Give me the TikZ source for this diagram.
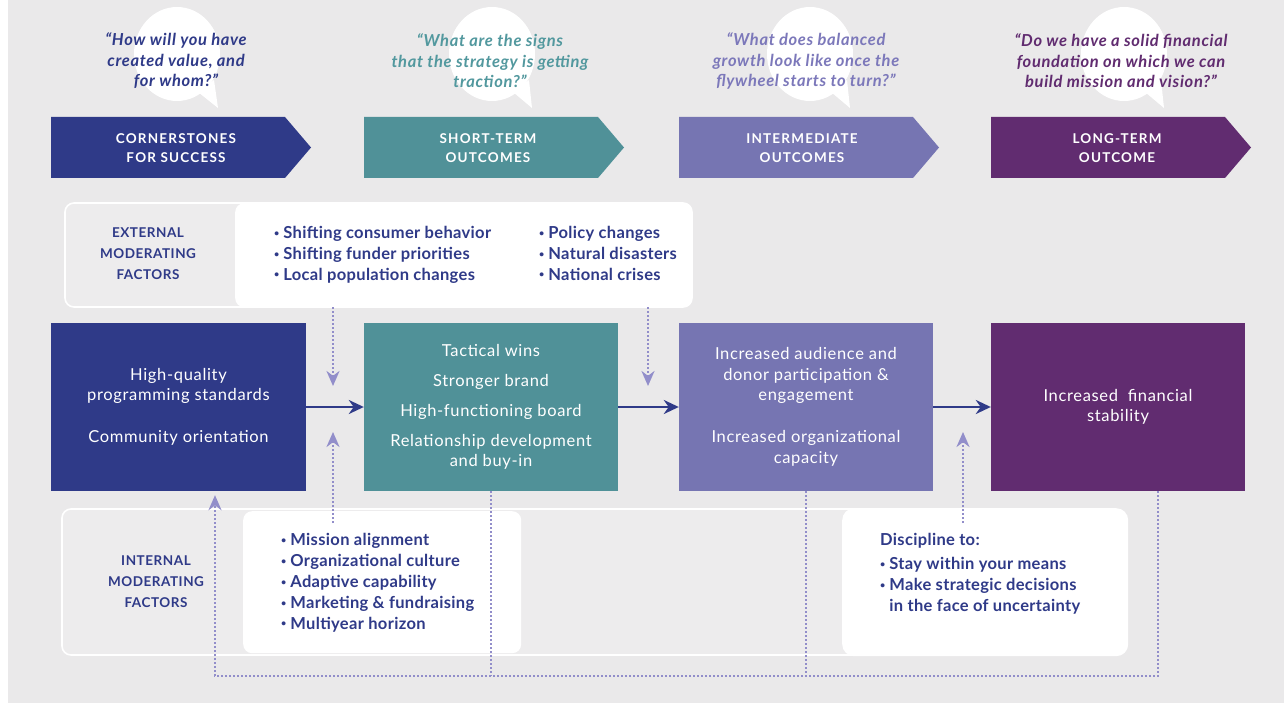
\documentclass[tikz,border=0pt]{standalone}
\usepackage{fontspec}
\setmainfont{Lato}
\usetikzlibrary{arrows.meta}
\definecolor{bg}{RGB}{234,233,234}
\definecolor{bgl}{RGB}{237,236,237}
\definecolor{navy}{RGB}{47,58,136}
\definecolor{cteal}{RGB}{80,145,152}
\definecolor{clav}{RGB}{118,117,178}
\definecolor{cpurp}{RGB}{97,44,112}
\definecolor{qteal}{RGB}{82,152,158}
\definecolor{qlav}{RGB}{124,120,186}
\definecolor{dotc}{RGB}{146,142,202}
\newcommand\bul{\raisebox{2.2pt}{\fontsize{9}{9}\selectfont•}\hspace{4pt}}

\begin{document}
\begin{tikzpicture}[x=1pt,y=-1pt,
  box/.style={minimum width=254pt,minimum height=168pt,inner sep=0pt,text=white,align=center,font=\fontsize{16.5}{20.5}\selectfont\addfontfeature{LetterSpace=4}},
  head/.style={text=white,align=center,font=\fontsize{13.5}{19.5}\selectfont\bfseries\addfontfeature{LetterSpace=9}},
  quest/.style={align=center,font=\fontsize{16.5}{20.5}\selectfont\bfseries\itshape\addfontfeature{LetterSpace=4}},
  lab/.style={text=navy,align=center,font=\fontsize{13.5}{21}\selectfont\bfseries\addfontfeature{LetterSpace=4}},
  list/.style={text=navy,align=left,anchor=north west,inner sep=0pt,font=\fontsize{16.5}{20.8}\selectfont\bfseries\addfontfeature{LetterSpace=2}},
  whitebox/.style={fill=white,anchor=north west,inner sep=0pt},
  panel/.style={draw=white,line width=1.6pt,rounded corners=9pt,fill=bgl},
  arr/.style={navy,line width=2.5pt,-{Stealth[length=15pt,width=14pt]}},
  dots/.style={dotc,line width=2.8pt,dash pattern=on 2pt off 2pt},
  dotarr/.style={dots,-{Stealth[length=15pt,width=13pt]}},
]
  \useasboundingbox (0,0) rectangle (1284,703);
  \fill[bg] (8,0) rectangle (1284,703);

  % speech bubbles
  \fill[white] (177,54) ellipse [x radius=43pt,y radius=47pt];
  \fill[white] (198,92) -- (218,108) -- (214,80) -- cycle;
  \fill[white] (492,54) ellipse [x radius=43pt,y radius=47pt];
  \fill[white] (513,92) -- (532,108) -- (529,80) -- cycle;
  \fill[white] (810,54) ellipse [x radius=43pt,y radius=47pt];
  \fill[white] (831,92) -- (850,108) -- (847,80) -- cycle;
  \fill[white] (1124,54) ellipse [x radius=43pt,y radius=47pt];
  \fill[white] (1145,92) -- (1164,108) -- (1161,80) -- cycle;

  \node[quest,text=navy] (q1) at (176,61) {“How will you have\\created value, and\\for whom?”};
  \node[quest,text=qteal] (q2) at (490,61) {“What are the signs\\that the strategy is getting\\traction?”};
  \node[quest,text=qlav] (q3) at (806,61) {“What does balanced\\growth look like once the\\flywheel starts to turn?”};
  \node[quest,text=cpurp] (q4) at (1121,61) {“Do we have a solid financial\\foundation on which we can\\build mission and vision?”};

  % header arrows
  \fill[navy] (51,117) -- (285,117) -- (311,147.5) -- (285,178) -- (51,178) -- cycle;
  \fill[cteal] (364,117) -- (598,117) -- (624,147.5) -- (598,178) -- (364,178) -- cycle;
  \fill[clav] (679,117) -- (913,117) -- (939,147.5) -- (913,178) -- (679,178) -- cycle;
  \fill[cpurp] (991,117) -- (1225,117) -- (1251,147.5) -- (1225,178) -- (991,178) -- cycle;
  \node[head] (h1) at (176,148) {CORNERSTONES\\FOR SUCCESS};
  \node[head] (h2) at (488,148) {SHORT-TERM\\OUTCOMES};
  \node[head] (h3) at (802,148) {INTERMEDIATE\\OUTCOMES};
  \node[head] (h4) at (1117,148) {LONG-TERM\\OUTCOME};

  % external factors
  \draw[panel] (65,203) rectangle (692,307);
  \node[whitebox,rounded corners=9pt,minimum width=457pt,minimum height=104pt] (extbox) at (235,203) {};
  \node[lab] (ext) at (148,254) {EXTERNAL\\MODERATING\\FACTORS};
  \node[list] (e1) at (274,226) {\bul Shifting consumer behavior\\\bul Shifting funder priorities\\\bul Local population changes};
  \node[list] (e2) at (539,226) {\bul Policy changes\\\bul Natural disasters\\\bul National crises};

  % internal factors
  \draw[panel] (62,509) rectangle (1000,655);
  \node[whitebox,rounded corners=9pt,minimum width=278pt,minimum height=142pt] (intbox) at (243,511) {};
  \node[whitebox,rounded corners=12pt,minimum width=286pt,minimum height=148pt] (discbox) at (842,508) {};
  \node[lab] (int) at (156,582) {INTERNAL\\MODERATING\\FACTORS};
  \node[list] (i1) at (281,533.5) {\bul Mission alignment\\\bul Organizational culture\\\bul Adaptive capability\\\bul Marketing \& fundraising\\\bul Multiyear horizon};
  \node[list] (d1) at (880,533.5) {Discipline to:\\[3pt]\bul Stay within your means\\\bul Make strategic decisions\\\phantom{\bul}in the face of uncertainty};

  % outcome boxes
  \node[box,fill=navy,minimum width=255pt] (b1) at (178.5,407) {High-quality\\programming standards\\[21.5pt]Community orientation};
  \node[box,fill=cteal] (b2) at (491,407) {Tactical wins\\[9.5pt]Stronger brand\\[9.5pt]High-functioning board\\[9.5pt]Relationship development\\and buy-in};
  \node[box,fill=clav] (b3) at (806,407) {Increased audience and\\donor participation \&\\engagement\\[21.5pt]Increased organizational\\capacity};
  \node[box,fill=cpurp] (b4) at (1118,407) {Increased\ \ financial\\stability};

  \draw[arr] (b1) -- (b2);
  \draw[arr] (b2) -- (b3);
  \draw[arr] (b3) -- (b4);

  % moderating influences
  \coordinate (t1) at (333,386);
  \coordinate (t2) at (648,386);
  \coordinate (t3) at (333,432);
  \coordinate (s3) at (333,523);
  \coordinate (t4) at (963,432);
  \coordinate (s4) at (963,523);
  \draw[dotarr] (extbox.south -| t1) -- (t1);
  \draw[dotarr] (extbox.south -| t2) -- (t2);
  \draw[dotarr] (s3) -- (t3);
  \draw[dotarr] (s4) -- (t4);

  % feedback loop
  \coordinate (lp) at (215,676);
  \coordinate (r4) at (1158,491);
  \draw[dots] (b2.south) -- (b2.south |- lp);
  \draw[dots] (b3.south) -- (b3.south |- lp);
  \draw[dotarr,shorten >=4pt] (r4) |- (lp) -- (b1.south -| lp);
\end{tikzpicture}
\end{document}
